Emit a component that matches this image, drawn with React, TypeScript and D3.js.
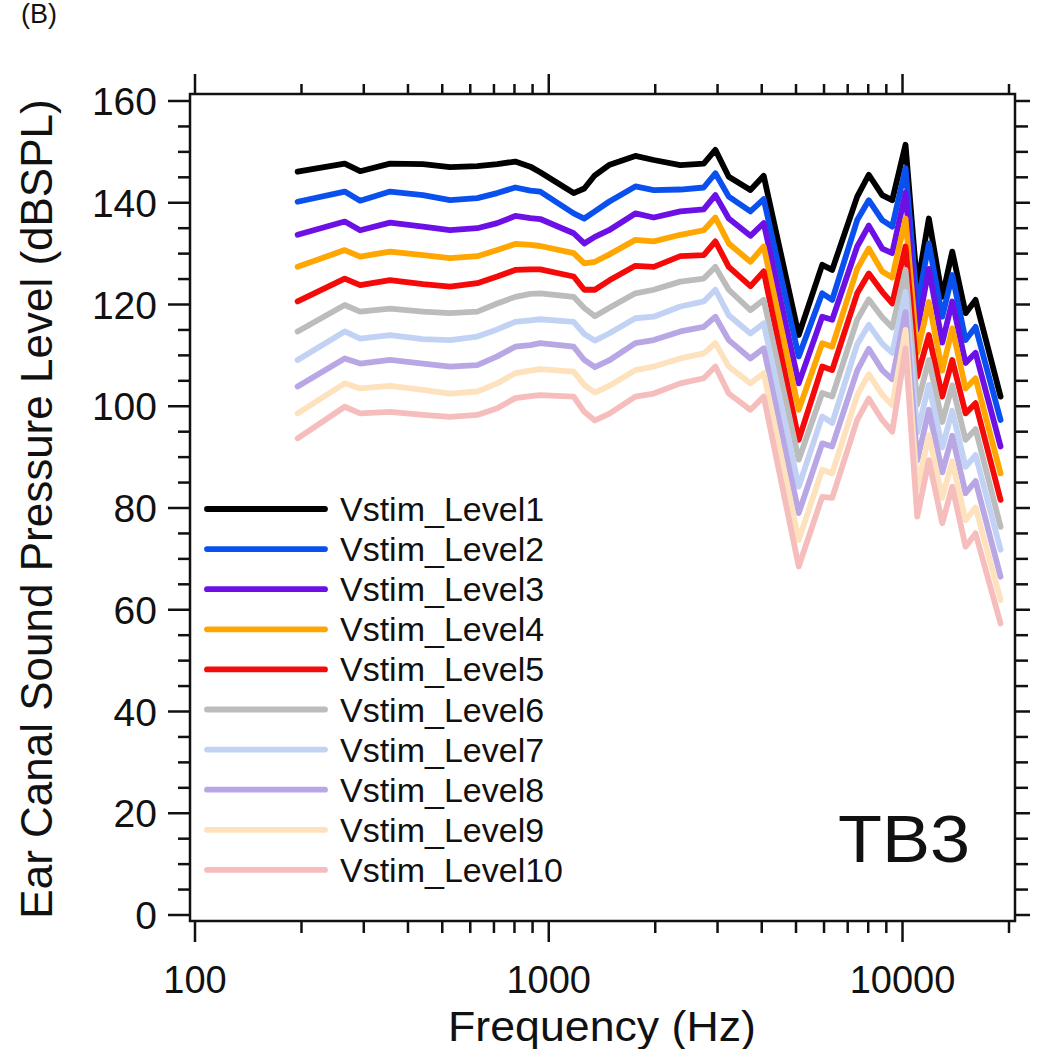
import React from "react";
import * as d3 from "d3";

const freqs = [195, 265, 293, 356, 441, 526, 628, 715, 804, 887, 946, 1176, 1260, 1350, 1480, 1757, 1980, 2355, 2742, 2958, 3227, 3716, 4052, 5089, 5929, 6327, 7446, 8028, 8762, 9352, 10198, 11006, 11871, 12953, 13823, 15074, 16088, 18932];

const level1 = [146.1, 147.7, 146.2, 147.7, 147.6, 147.0, 147.2, 147.6, 148.1, 147.1, 146.0, 141.9, 142.8, 145.4, 147.4, 149.2, 148.4, 147.4, 147.7, 150.4, 145.1, 142.5, 145.3, 114.0, 127.8, 126.8, 141.2, 145.5, 141.5, 140.5, 151.4, 123.5, 136.9, 121.5, 130.4, 118.3, 120.9, 101.9];
const level2 = [140.2, 142.2, 140.4, 142.2, 141.5, 140.5, 140.9, 141.9, 143.0, 142.4, 142.2, 137.9, 136.9, 138.3, 140.2, 143.2, 142.5, 142.6, 143.0, 145.8, 141.2, 138.3, 140.7, 109.8, 122.2, 120.9, 136.6, 140.5, 136.6, 135.3, 146.8, 119.6, 132.0, 117.6, 125.8, 113.0, 115.6, 97.3];
const level3 = [133.7, 136.3, 134.6, 136.1, 135.3, 134.6, 135.0, 136.0, 137.4, 137.0, 136.8, 134.0, 132.0, 133.3, 134.6, 137.9, 137.1, 138.3, 138.7, 141.5, 136.9, 133.5, 136.0, 104.5, 117.6, 117.0, 131.4, 135.5, 131.0, 130.1, 142.0, 115.0, 127.0, 112.5, 120.6, 108.5, 110.5, 92.1];
const level4 = [127.4, 130.7, 129.4, 130.4, 129.7, 129.1, 129.5, 130.7, 131.9, 131.7, 131.5, 130.1, 128.1, 128.4, 129.8, 132.7, 132.4, 133.7, 134.6, 137.1, 132.0, 128.4, 131.4, 99.3, 112.4, 111.7, 127.0, 131.0, 126.5, 125.3, 136.9, 110.5, 120.5, 107.0, 115.3, 103.5, 105.5, 86.8];
const level5 = [120.6, 125.1, 123.8, 124.8, 124.0, 123.5, 124.2, 125.5, 126.8, 126.9, 126.9, 125.5, 122.9, 122.9, 124.7, 127.6, 127.4, 129.5, 129.7, 132.4, 127.4, 123.6, 126.5, 93.4, 107.8, 107.1, 122.2, 126.1, 122.5, 120.2, 131.4, 105.8, 114.0, 101.9, 109.1, 98.6, 100.6, 81.6];
const level6 = [114.7, 119.9, 118.6, 119.2, 118.6, 118.3, 118.6, 120.2, 121.5, 122.1, 122.2, 121.5, 119.3, 117.7, 119.3, 122.2, 122.9, 124.5, 125.1, 127.4, 122.9, 118.9, 120.9, 89.5, 102.6, 101.9, 117.0, 121.0, 117.5, 115.5, 126.8, 100.3, 109.1, 96.9, 104.1, 93.4, 95.5, 76.3];
const level7 = [109.1, 114.7, 113.3, 114.0, 113.2, 113.0, 113.7, 115.1, 116.6, 116.9, 117.1, 116.6, 114.2, 112.9, 114.3, 117.3, 117.6, 119.6, 120.6, 122.9, 117.9, 114.3, 116.3, 84.2, 98.0, 96.7, 112.2, 116.0, 112.3, 110.5, 122.5, 94.8, 104.2, 91.9, 99.1, 88.1, 90.4, 71.8];
const level8 = [103.9, 109.4, 108.4, 109.1, 108.4, 107.8, 108.1, 109.8, 111.7, 112.0, 112.4, 111.7, 109.1, 107.7, 109.0, 112.4, 113.0, 114.7, 115.6, 117.6, 113.0, 109.4, 111.4, 79.0, 92.7, 92.1, 107.0, 111.3, 107.1, 105.3, 118.5, 89.3, 99.3, 87.0, 94.2, 82.9, 85.3, 66.5];
const level9 = [98.6, 104.5, 103.5, 104.0, 103.2, 102.5, 102.9, 104.5, 106.5, 107.0, 107.3, 106.8, 104.2, 102.7, 104.0, 107.1, 107.8, 109.4, 110.4, 112.4, 107.8, 104.5, 106.5, 73.7, 87.5, 86.8, 102.2, 106.3, 102.3, 100.2, 115.0, 83.8, 94.3, 82.0, 89.2, 77.6, 80.1, 61.9];
const level10 = [93.7, 99.9, 98.6, 98.9, 98.3, 97.9, 98.3, 99.6, 101.6, 102.0, 102.2, 101.9, 98.9, 97.2, 98.5, 101.9, 102.5, 104.5, 105.5, 107.8, 102.5, 99.3, 101.9, 68.5, 82.2, 82.0, 97.3, 101.5, 97.3, 95.0, 111.4, 78.3, 89.4, 77.0, 84.2, 72.4, 75.0, 57.3];

const seriesNames = ["Vstim_Level1", "Vstim_Level2", "Vstim_Level3", "Vstim_Level4", "Vstim_Level5", "Vstim_Level6", "Vstim_Level7", "Vstim_Level8", "Vstim_Level9", "Vstim_Level10"];
const seriesValues = [level1, level2, level3, level4, level5, level6, level7, level8, level9, level10];
const seriesColors = ["#000000", "#0a50ee", "#6c10e6", "#ffa600", "#f50a0a", "#bcbcbc", "#c2d2f4", "#b9a6e4", "#fde2bd", "#f6bdbd"];

const yTickLabels = [0, 20, 40, 60, 80, 100, 120, 140, 160];
const xTickLabels = [100, 1000, 10000];

const FONT = "'Liberation Sans', Arial, Helvetica, sans-serif";

export default function App() {
  const W = 1050, H = 1049;
  const frame = { left: 190, top: 94, right: 1015, bottom: 921 };
  const x = d3.scaleLog().domain([100, 20000]).range([195, 1009]);
  const y = d3.scaleLinear().domain([0, 160]).range([915, 101]);

  const line = d3
    .line<[number, number]>()
    .x((d) => x(d[0]))
    .y((d) => y(d[1]));

  const minorX: number[] = [];
  [100, 1000, 10000].forEach((dec) => {
    for (let k = 2; k <= 9; k++) {
      if (dec * k <= 20000) minorX.push(dec * k);
    }
  });
  const yTicksAll: number[] = d3.range(0, 161, 5);

  const legendX0 = 207, legendX1 = 325, legendY0 = 509, legendStep = 40.1;

  return (
    <svg width={W} height={H} style={{ position: "absolute", left: 0, top: 0, background: "#fff" }} fontFamily={FONT}>
      <rect x={0} y={0} width={W} height={H} fill="#fff" />
      <text x={21} y={23} fontSize={27} fill="#111">(B)</text>

      {/* data lines */}
      <g fill="none" strokeLinejoin="round" strokeLinecap="round">
        {seriesValues.map((vals, i) => (
          <path
            key={i}
            d={line(freqs.map((f, j) => [f, vals[j]] as [number, number])) || ""}
            stroke={seriesColors[i]}
            strokeWidth={5.8}
          />
        ))}
      </g>

      {/* frame */}
      <rect x={frame.left} y={frame.top} width={frame.right - frame.left} height={frame.bottom - frame.top} fill="none" stroke="#111" strokeWidth={2.5} />

      {/* ticks */}
      <g stroke="#111" strokeWidth={2.5}>
        {xTickLabels.map((t) => (
          <g key={"xm" + t}>
            <line x1={x(t)} x2={x(t)} y1={frame.bottom} y2={frame.bottom + 21} />
            <line x1={x(t)} x2={x(t)} y1={frame.top} y2={frame.top - 20} />
          </g>
        ))}
        {minorX.map((t) => (
          <g key={"xn" + t}>
            <line x1={x(t)} x2={x(t)} y1={frame.bottom} y2={frame.bottom + 12} />
            <line x1={x(t)} x2={x(t)} y1={frame.top} y2={frame.top - 10} />
          </g>
        ))}
        {yTicksAll.map((t) => {
          const major = t % 20 === 0;
          return (
            <g key={"y" + t}>
              <line x1={frame.left} x2={frame.left - (major ? 22 : 12)} y1={y(t)} y2={y(t)} />
              <line x1={frame.right} x2={frame.right + (major ? 15 : 13)} y1={y(t)} y2={y(t)} />
            </g>
          );
        })}
      </g>

      {/* tick labels */}
      <g fill="#111">
        {yTickLabels.map((t) => (
          <text key={"yl" + t} x={157} y={y(t) + 14} textAnchor="end" fontSize={39}>{t}</text>
        ))}
        {xTickLabels.map((t) => (
          <text key={"xl" + t} x={x(t)} y={993} textAnchor="middle" fontSize={38}>{t}</text>
        ))}
      </g>

      {/* axis titles */}
      <text x={602} y={1041} fontSize={43} textAnchor="middle" fill="#111" textLength={308} lengthAdjust="spacingAndGlyphs">Frequency (Hz)</text>
      <text transform="translate(52,509) rotate(-90)" fontSize={44} textAnchor="middle" fill="#111">
        Ear Canal Sound Pressure Level (dBSPL)
      </text>

      {/* legend */}
      <g>
        {seriesNames.map((name, i) => (
          <g key={name}>
            <line x1={legendX0} x2={legendX1} y1={legendY0 + i * legendStep} y2={legendY0 + i * legendStep} stroke={seriesColors[i]} strokeWidth={5.8} strokeLinecap="round" />
            <text x={340} y={legendY0 + i * legendStep + 12} fontSize={34} fill="#111">{name}</text>
          </g>
        ))}
      </g>

      <text x={904} y={862} fontSize={66} textAnchor="middle" fill="#111" textLength={132} lengthAdjust="spacingAndGlyphs">TB3</text>
    </svg>
  );
}
